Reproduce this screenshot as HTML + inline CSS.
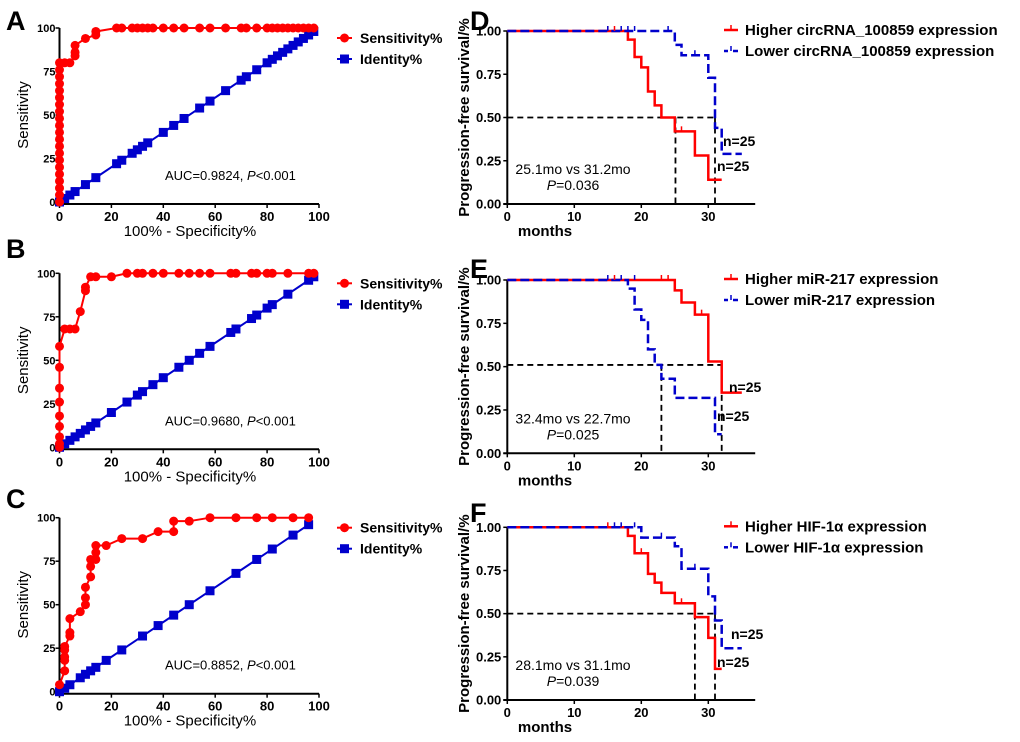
<!DOCTYPE html>
<html><head><meta charset="utf-8"><style>
html,body{margin:0;padding:0;background:#fff;}
svg{display:block;font-family:"Liberation Sans",Arial,sans-serif;font-weight:bold;}
</style></head><body>
<svg id="fig" width="1020" height="742" viewBox="0 0 1020 742" xmlns="http://www.w3.org/2000/svg"></svg>
<script>
// ROC data
const rocA_sensX=[0,0,0,0,0,0,0,0,0,0,0,0,0,0,0,0,0,0,0,0,0,2,4,6,6,6,10,14,14,22,24,28,30,32,34,36,40,44,48,54,58,64,70,72,76,80,82,84,86,88,90,92,94,96,98];
const rocA_sensY=[0,4,8,12,16,20,24,28,32,36,40,44,48,52,56,60,64,68,72,76,80,80,80,84,86,90,94,96,98,100,100,100,100,100,100,100,100,100,100,100,100,100,100,100,100,100,100,100,100,100,100,100,100,100,100];
const rocA_id=[0,2,4,6,10,14,22,24,28,30,32,34,40,44,48,54,58,64,70,72,76,80,82,84,86,88,90,92,94,96,98];
const rocB_sensX=[0,0,0,0,0,0,0,0,0,2,4,6,8,10,10,12,14,20,26,30,32,36,40,46,50,54,58,66,68,74,76,80,82,88,96,98];
const rocB_sensY=[0,2,6,12,18,26,34,46,58,68,68,68,78,90,92,98,98,98,100,100,100,100,100,100,100,100,100,100,100,100,100,100,100,100,100,100];
const rocB_id=[0,2,4,6,8,10,12,14,20,26,30,32,36,40,46,50,54,58,66,68,74,76,80,82,88,96,98];
const rocC_sensX=[0,2,2,2,2,2,4,4,4,8,10,10,10,12,12,12,14,14,14,18,24,32,38,44,44,50,58,68,76,82,90,96];
const rocC_sensY=[4,12,18,20,24,26,32,34,42,46,50,54,60,66,72,76,76,80,84,84,88,88,92,92,98,98,100,100,100,100,100,100];
const rocC_id=[0,2,4,8,10,12,14,18,24,32,38,44,50,58,68,76,82,90,96];
const rocTicks=[0,20,40,60,80,100];
const rocYTicks=[0,25,50,75,100];
// KM data: event times and survival after each step
const kmD_hiT=[18,19,20,21,22,23,25,28,30], kmD_hiS=[0.95,0.85,0.79,0.65,0.57,0.50,0.42,0.28,0.14], kmD_hiEnd=32, kmD_hiCens=[[15,1],[16,1],[26,0.42]];
const kmD_loT=[25,26,30,31,32], kmD_loS=[0.92,0.86,0.73,0.44,0.29], kmD_loEnd=35, kmD_loCens=[[15,1],[17,1],[18,1],[19,1],[24,1],[28,0.86]];
const kmD_med=[25.1,31];
const kmE_hiT=[25,26,28,30,32], kmE_hiS=[0.94,0.87,0.80,0.53,0.35], kmE_hiEnd=35, kmE_hiCens=[[16,1],[23,1],[24,1],[29,0.80]];
const kmE_loT=[18,19,20,21,22,23,25,31], kmE_loS=[0.95,0.83,0.77,0.60,0.51,0.43,0.32,0.11], kmE_loEnd=32, kmE_loCens=[[15,1],[17,1],[19,1]];
const kmE_med=[23,32];
const kmF_hiT=[18,19,21,22,23,25,28,30,31], kmF_hiS=[0.95,0.85,0.73,0.68,0.62,0.56,0.48,0.36,0.18], kmF_hiEnd=32, kmF_hiCens=[[15,1],[20,0.85],[26,0.56]];
const kmF_loT=[20,25,26,30,31,32], kmF_loS=[0.94,0.89,0.76,0.60,0.46,0.30], kmF_loEnd=35, kmF_loCens=[[16,1],[17,1],[19,1],[23,0.94],[28,0.76]];
const kmF_med=[28,31];
const kmXTicks=[0,10,20,30];
const kmYTicks=[0,0.25,0.5,0.75,1];
const kmYLabels=["0.00","0.25","0.50","0.75","1.00"];

const NS="http://www.w3.org/2000/svg";
const svg=document.getElementById('fig');
function el(tag,attrs,parent,text){const e=document.createElementNS(NS,tag);for(const k in attrs)e.setAttribute(k,attrs[k]);if(text!==undefined)e.textContent=text;(parent||svg).appendChild(e);return e;}

function roc(letter,top,sx,sy,idv,auc,letterY){
  const g=el('g',{});
  
  
  const x0=59.5,x1=319,y0=top+174,y1=top;
  const X=v=>x0+(x1-x0)*v/100, Y=v=>y0-(y0-y1)*v/100;
  const t=el('text',{x:6,y:letterY,'font-size':27,fill:'#000'},g,letter);
  
  el('line',{x1:x0,y1:y1,x2:x0,y2:y0+2,stroke:'#000','stroke-width':2},g);
  el('line',{x1:x0-2,y1:y0+2,x2:x1,y2:y0+2,stroke:'#000','stroke-width':2},g);
  rocTicks.forEach(v=>{el('line',{x1:X(v),y1:y0+2,x2:X(v),y2:y0+6,stroke:'#000','stroke-width':1.5},g);
    el('text',{x:X(v),y:y0+19,'font-size':13,'text-anchor':'middle'},g,v);});
  rocYTicks.forEach(v=>{el('line',{x1:x0-4,y1:Y(v),x2:x0,y2:Y(v),stroke:'#000','stroke-width':1.5},g);
    el('text',{x:x0-4,y:Y(v)+4,'font-size':11,'text-anchor':'end'},g,v);});
  const xt=el('text',{x:190,y:y0+34,'font-size':15,'text-anchor':'middle','font-weight':'normal'},g,'100% - Specificity%');
  
  const yt=el('text',{x:0,y:0,'font-size':15,'text-anchor':'middle','font-weight':'normal',transform:`translate(28,${(y0+y1)/2}) rotate(-90)`},g,'Sensitivity');
  
  el('polyline',{points:idv.map(v=>X(v)+','+Y(v)).join(' '),fill:'none',stroke:'#0000cc','stroke-width':2},g);
  idv.forEach(v=>{const r=el('rect',{x:X(v)-4.5,y:Y(v)-4.5,width:9,height:9,fill:'#0000cc'},g);
    });
  el('polyline',{points:sx.map((v,i)=>X(v)+','+Y(sy[i])).join(' '),fill:'none',stroke:'#ff0000','stroke-width':2},g);
  sx.forEach((v,i)=>{const c=el('circle',{cx:X(v),cy:Y(sy[i]),r:4.5,fill:'#ff0000'},g);
    });
  const a=el('text',{x:165,y:Y(0)-22,'font-size':13,'font-weight':'normal'},g);
  
  el('tspan',{},a,auc+', ');el('tspan',{'font-style':'italic'},a,'P');el('tspan',{},a,'<0.001');
  const lg=el('g',{},g);
  const ly=top+10;
  el('line',{x1:337,y1:ly,x2:352,y2:ly,stroke:'#ff0000','stroke-width':2},lg);
  el('circle',{cx:344.5,cy:ly,r:4.5,fill:'#ff0000'},lg);
  el('text',{x:360,y:ly+5,'font-size':14},lg,'Sensitivity%');
  el('line',{x1:337,y1:ly+21,x2:352,y2:ly+21,stroke:'#0000cc','stroke-width':2},lg);
  el('rect',{x:340,y:ly+16.5,width:9,height:9,fill:'#0000cc'},lg);
  el('text',{x:360,y:ly+26,'font-size':14},lg,'Identity%');
}
function stepPts(T,S,end,X,Y){let p=[[0,1]];let s=1;T.forEach((t,i)=>{p.push([t,s]);s=S[i];p.push([t,s]);});p.push([end,s]);return p.map(q=>X(q[0])+','+Y(q[1])).join(' ');}
function km(letter,top,bottom,letterY,hi,lo,med,medY,txt,pv,legHi,legLo,nHi,nLo){
  const g=el('g',{});
  
  
  const x0=507.3,y1=top,y0=bottom,ppm=(708.3-507.3)/30;
  const X=v=>x0+ppm*v,Y=v=>y0-(y0-y1)*v;
  const t=el('text',{x:470,y:letterY,'font-size':27},g,letter);
  
  el('line',{x1:x0,y1:y1,x2:x0,y2:y0,stroke:'#000','stroke-width':2},g);
  el('line',{x1:x0-4,y1:y0,x2:X(37),y2:y0,stroke:'#000','stroke-width':2},g);
  kmXTicks.forEach(v=>{el('line',{x1:X(v),y1:y0,x2:X(v),y2:y0+4,stroke:'#000','stroke-width':1.5},g);
    el('text',{x:X(v),y:y0+17,'font-size':13,'text-anchor':'middle'},g,v);});
  kmYTicks.forEach((v,i)=>{el('line',{x1:x0-4,y1:Y(v),x2:x0,y2:Y(v),stroke:'#000','stroke-width':1.5},g);
    el('text',{x:x0-6,y:Y(v)+4.5,'font-size':13,'text-anchor':'end'},g,kmYLabels[i]);});
  const xt=el('text',{x:545,y:y0+32,'font-size':15,'text-anchor':'middle'},g,'months');
  
  const yt=el('text',{x:0,y:0,'font-size':15,'text-anchor':'middle',transform:`translate(469,${(y0+y1)/2}) rotate(-90)`},g,'Progression-free survival/%');
  
  el('polyline',{points:`${X(0)},${Y(medY)} ${X(med[1])},${Y(medY)}`,fill:'none',stroke:'#000','stroke-width':1.8,'stroke-dasharray':'6,4'},g);
  med.forEach(m=>el('line',{x1:X(m),y1:Y(medY),x2:X(m),y2:y0,stroke:'#000','stroke-width':1.8,'stroke-dasharray':'6,4'},g));
  const hl=el('polyline',{points:stepPts(hi[0],hi[1],hi[2],X,Y),fill:'none',stroke:'#ff0000','stroke-width':2.5},g);
  
  const ll=el('polyline',{points:stepPts(lo[0],lo[1],lo[2],X,Y),fill:'none',stroke:'#0000cc','stroke-width':2.5,'stroke-dasharray':'9,4'},g);
  
  hi[3].forEach(c=>el('line',{x1:X(c[0]),y1:Y(c[1]),x2:X(c[0]),y2:Y(c[1])-5,stroke:'#ff0000','stroke-width':1.5},g));
  lo[3].forEach(c=>el('line',{x1:X(c[0]),y1:Y(c[1]),x2:X(c[0]),y2:Y(c[1])-5,stroke:'#0000cc','stroke-width':1.5},g));
  const a=el('text',{x:573,y:y0-30,'font-size':14,'text-anchor':'middle','font-weight':'normal'},g,txt);
  
  const p=el('text',{x:573,y:y0-14,'font-size':14,'text-anchor':'middle','font-weight':'normal'},g);
  
  el('tspan',{'font-style':'italic'},p,'P');el('tspan',{},p,'='+pv);
  el('text',{x:nHi[0],y:nHi[1],'font-size':14},g,'n=25');
  el('text',{x:nLo[0],y:nLo[1],'font-size':14},g,'n=25');
  const lg=el('g',{},g);
  const ly=top-1;
  el('line',{x1:724,y1:ly,x2:738,y2:ly,stroke:'#ff0000','stroke-width':2.5},lg);
  el('line',{x1:731,y1:ly,x2:731,y2:ly-5,stroke:'#ff0000','stroke-width':1.5},lg);
  el('text',{x:745,y:ly+5,'font-size':15},lg,legHi);
  el('line',{x1:724,y1:ly+21,x2:728,y2:ly+21,stroke:'#0000cc','stroke-width':2.5},lg);
  el('line',{x1:733,y1:ly+21,x2:738,y2:ly+21,stroke:'#0000cc','stroke-width':2.5},lg);
  el('line',{x1:731,y1:ly+21,x2:731,y2:ly+16,stroke:'#0000cc','stroke-width':1.5},lg);
  el('text',{x:745,y:ly+26,'font-size':15},lg,legLo);
}
roc('A',28,rocA_sensX,rocA_sensY,rocA_id,'AUC=0.9824',30);
roc('B',273.3,rocB_sensX,rocB_sensY,rocB_id,'AUC=0.9680',258);
roc('C',517.7,rocC_sensX,rocC_sensY,rocC_id,'AUC=0.8852',508);
km('D',31,204,30,[kmD_hiT,kmD_hiS,kmD_hiEnd,kmD_hiCens],[kmD_loT,kmD_loS,kmD_loEnd,kmD_loCens],kmD_med,0.5,'25.1mo vs 31.2mo','0.036','Higher circRNA_100859 expression','Lower circRNA_100859 expression',[723,146],[717,171]);
km('E',280,453.3,278,[kmE_hiT,kmE_hiS,kmE_hiEnd,kmE_hiCens],[kmE_loT,kmE_loS,kmE_loEnd,kmE_loCens],kmE_med,0.51,'32.4mo vs 22.7mo','0.025','Higher miR-217 expression','Lower miR-217 expression',[729,392],[717,421]);
km('F',527.3,700,522,[kmF_hiT,kmF_hiS,kmF_hiEnd,kmF_hiCens],[kmF_loT,kmF_loS,kmF_loEnd,kmF_loCens],kmF_med,0.5,'28.1mo vs 31.1mo','0.039','Higher HIF-1α  expression','Lower HIF-1α  expression',[731,639],[717,667]);
</script>
</body></html>
